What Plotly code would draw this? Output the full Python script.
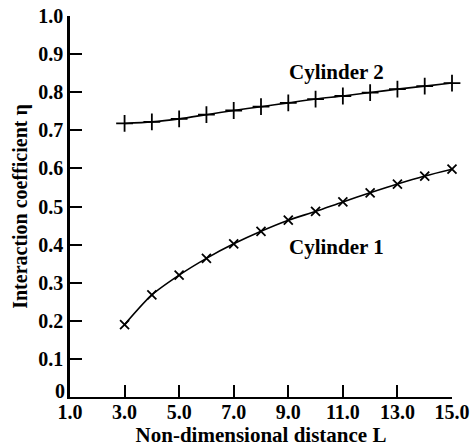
import plotly.graph_objects as go

# Data
L_values = [3, 4, 5, 6, 7, 8, 9, 10, 11, 12, 13, 14, 15]
cyl1_eta = [0.190, 0.268, 0.320, 0.364, 0.402, 0.435, 0.464, 0.487, 0.512, 0.536, 0.559, 0.580, 0.598]
cyl2_eta = [0.718, 0.722, 0.730, 0.741, 0.752, 0.762, 0.772, 0.782, 0.790, 0.799, 0.808, 0.816, 0.824]

x_tick_vals = [1, 3, 5, 7, 9, 11, 13, 15]
x_tick_text = ["1.0", "3.0", "5.0", "7.0", "9.0", "11.0", "13.0", "15.0"]
y_tick_vals = [0, 0.1, 0.2, 0.3, 0.4, 0.5, 0.6, 0.7, 0.8, 0.9, 1.0]
y_tick_text = ["0", "0.1", "0.2", "0.3", "0.4", "0.5", "0.6", "0.7", "0.8", "0.9", "1.0"]

series_names = ["Cylinder 1", "Cylinder 2"]
label_pos = [(10.78, 0.394), (10.78, 0.853)]

FONT = "Liberation Serif"

fig = go.Figure()
fig.add_trace(go.Scatter(
    x=L_values, y=cyl1_eta, mode="lines+markers", name=series_names[0],
    line=dict(color="black", width=1.6, shape="spline", smoothing=0.8),
    marker=dict(symbol="x-thin", size=9, line=dict(color="black", width=1.8)),
    showlegend=False, cliponaxis=False,
))
fig.add_trace(go.Scatter(
    x=L_values, y=cyl2_eta, mode="lines+markers", name=series_names[1],
    line=dict(color="black", width=1.6, shape="spline", smoothing=0.8),
    marker=dict(symbol="cross-thin", size=12, line=dict(color="black", width=1.8)),
    showlegend=False, cliponaxis=False,
))

for name, (lx, ly) in zip(series_names, label_pos):
    fig.add_annotation(x=lx, y=ly, text=name, showarrow=False,
                       font=dict(family=FONT, size=21, color="black", weight="bold"))

# The "0" label sits slightly raised above the corner in the reference
fig.add_annotation(xref="paper", yref="y", x=0, y=y_tick_vals[0], text=y_tick_text[0],
                   showarrow=False, xanchor="right", yanchor="bottom", xshift=-3, yshift=-7,
                   font=dict(family=FONT, size=20, color="black", weight="bold"))

fig.update_layout(
    width=475, height=447,
    margin=dict(l=70, r=23, t=16, b=50, autoexpand=False),
    paper_bgcolor="white", plot_bgcolor="white",
    font=dict(family=FONT, size=20, color="black", weight="bold"),
)
fig.update_xaxes(
    range=[1, 15], tickvals=x_tick_vals, ticktext=x_tick_text,
    ticks="inside", ticklen=12, tickwidth=1.5, tickcolor="black",
    showline=True, linewidth=2, linecolor="black",
    showgrid=False, zeroline=False, automargin=True,
    ticklabelstandoff=-4,
    tickfont=dict(family=FONT, size=20, color="black", weight="bold"),
    title=dict(text="Non-dimensional distance L", standoff=1,
               font=dict(family=FONT, size=21, color="black", weight="bold")),
)
fig.update_yaxes(
    range=[0, 1], tickvals=y_tick_vals[1:], ticktext=y_tick_text[1:],
    ticks="inside", ticklen=12, tickwidth=1.5, tickcolor="black",
    showline=True, linewidth=2.5, linecolor="black",
    showgrid=False, zeroline=False, automargin=True,
    tickfont=dict(family=FONT, size=20, color="black", weight="bold"),
    title=dict(text="Interaction coefficient η", standoff=6,
               font=dict(family=FONT, size=20, color="black", weight="bold")),
)

fig.write_html("out.html", post_script="document.body.style.margin='0';",
               config={"displayModeBar": False})
